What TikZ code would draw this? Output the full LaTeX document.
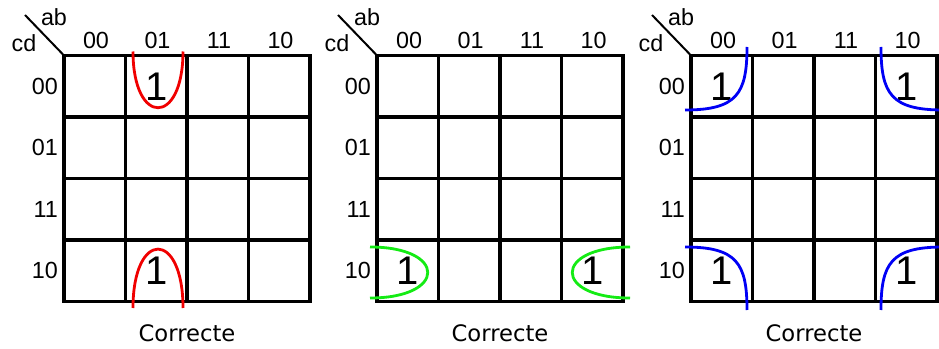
\documentclass[tikz,border=0pt]{standalone}
\usepackage{fontspec}
\setmainfont{Liberation Sans}
\newfontfamily\capfont{DejaVu Sans}
\usetikzlibrary{positioning}
\definecolor{kmapRed}{RGB}{240,0,0}
\definecolor{kmapGreen}{RGB}{20,235,20}
\definecolor{kmapBlue}{RGB}{0,0,245}

\begin{document}
\begin{tikzpicture}[x=0.75pt, y=-0.75pt,
      gridline/.style={line width=2.3pt, draw=black},
      hdr/.style={font=\fontsize{17.5}{20}\selectfont, inner sep=0pt},
      one/.style={font=\fontsize{30}{32}\selectfont, inner sep=0pt},
      caption/.style={font=\capfont\fontsize{17}{20}\selectfont, inner sep=0pt},
      group/.style={line width=2.1pt}
    ]
    \useasboundingbox (0,0) rectangle (939,349);

    % the three maps
    \foreach \mx/\mn in {64/A, 377/B, 691/C} {
      \begin{scope}[shift={(\mx,55.5)}]
        \draw[gridline] (0,0) rectangle (246,246);
        \foreach \i in {1,2,3} {
          \draw[gridline] (\i*61.5,0) -- (\i*61.5,246);
          \draw[gridline] (0,\i*61.5) -- (246,\i*61.5);
        }
        \foreach \lbl [count=\k from 0] in {00,01,11,10} {
          \node[hdr] (\mn col\k) at (\k*61.5+32,-15.5) {\lbl};
          \node[hdr, anchor=east] (\mn row\k) at (-6,\k*61.5+30.75) {\lbl};
        }
        \draw[line width=1.5pt] (-39,-40.5) -- (0,0);
        \node[hdr] (\mn ab) at (-10,-38) {ab};
        \node[hdr] (\mn cd) at (-40,-12.5) {cd};
        \node[caption] (\mn cap) at (123,277.5) {Correcte};
      \end{scope}
    }

    % map A: column 01
    \begin{scope}[shift={(64,55.5)}]
      \node[one] (A01) at (92.25,30.75) {1};
      \node[one] (A31) at (92.25,215.25) {1};
      \draw[group, kmapRed] (69,-4) .. controls (69,71) and (119,71) .. (119,-4);
      \draw[group, kmapRed] (69,252.5) .. controls (69,174) and (119,174) .. (119,252.5);
    \end{scope}

    % map B: row 10, wrap left/right
    \begin{scope}[shift={(377,55.5)}]
      \node[one] (B30) at (30.75,215.25) {1};
      \node[one] (B33) at (215.25,215.25) {1};
      \draw[group, kmapGreen] (-7,191.5) .. controls (70,191.5) and (70,242.5) .. (-7,242.5);
      \draw[group, kmapGreen] (253,191.5) .. controls (176,191.5) and (176,242.5) .. (253,242.5);
    \end{scope}

    % map C: four corners
    \begin{scope}[shift={(691,55.5)}]
      \node[one] (C00) at (30.75,30.75) {1};
      \node[one] (C03) at (215.25,30.75) {1};
      \node[one] (C30) at (30.75,215.25) {1};
      \node[one] (C33) at (215.25,215.25) {1};
      \draw[group, kmapBlue] (-6,54.5) .. controls (46,54.5) and (56,38) .. (56,-8.5);
      \draw[group, kmapBlue] (252,54.5) .. controls (200,54.5) and (190,38) .. (190,-8.5);
      \draw[group, kmapBlue] (-6,191.5) .. controls (46,191.5) and (56,208) .. (56,254.5);
      \draw[group, kmapBlue] (252,191.5) .. controls (200,191.5) and (190,208) .. (190,254.5);
    \end{scope}
  \end{tikzpicture}
\end{document}
